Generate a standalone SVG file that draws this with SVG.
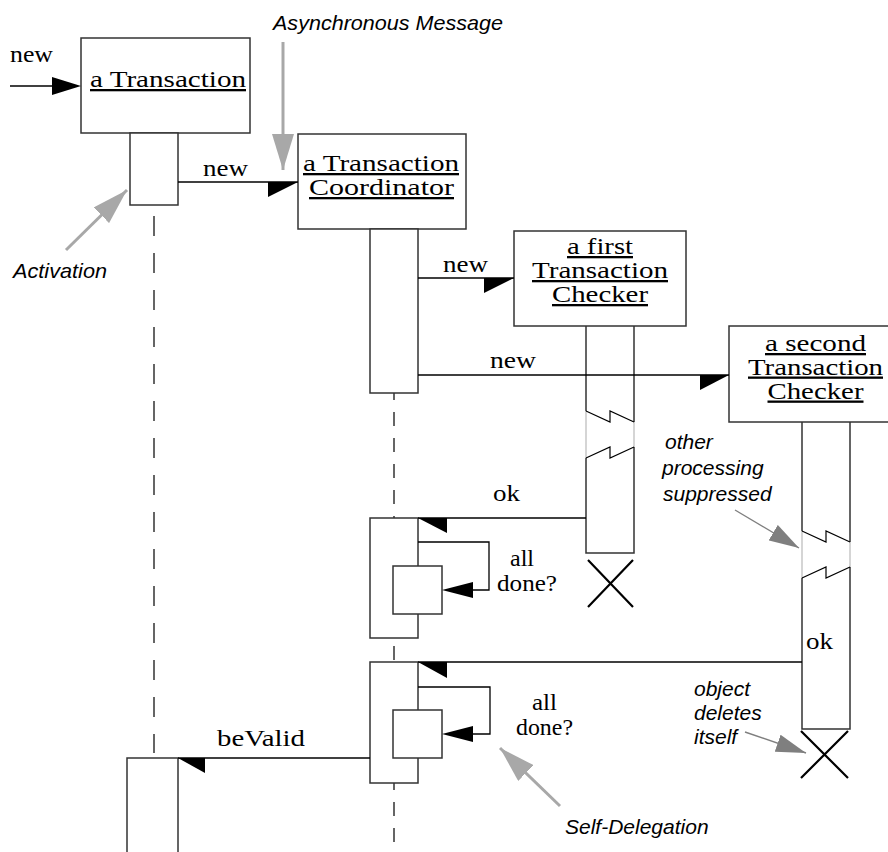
<svg xmlns="http://www.w3.org/2000/svg" width="888" height="852" viewBox="0 0 888 852">
  <style>
    .box{fill:#fff;stroke:#333;stroke-width:1.5}
    .edge{fill:none;stroke:#333;stroke-width:1.5}
    .dash{fill:none;stroke:#333;stroke-width:1.5}
    .faint{fill:none;stroke:#c8c8c8;stroke-width:1.5}
    .zig{fill:none;stroke:#000;stroke-width:1.2}
    .cross{fill:none;stroke:#000;stroke-width:2.2}
    .msg{fill:none;stroke:#000;stroke-width:1.3}
    .head{fill:#000;stroke:none}
    .name{font-family:"Liberation Serif",serif;font-size:23px;fill:#000;text-anchor:middle;text-decoration:underline}
    .lbl{font-family:"Liberation Serif",serif;font-size:23px;fill:#000}
    .note{font-family:"Liberation Sans",Arial,sans-serif;font-style:italic;font-size:21px;fill:#000}
    .call{fill:none;stroke:#a8a8a8;stroke-width:3}
    .call2{fill:none;stroke:#7f7f7f;stroke-width:1.4}
  </style>
  <defs>
    <marker id="callHead" markerUnits="userSpaceOnUse" viewBox="0 0 36 22" markerWidth="36" markerHeight="22" refX="36" refY="11" orient="auto">
      <path d="M0,0 L36,11 L0,22 z" fill="#a8a8a8"/>
    </marker>
    <marker id="callHead2" markerUnits="userSpaceOnUse" viewBox="0 0 30 18" markerWidth="30" markerHeight="18" refX="30" refY="9" orient="auto">
      <path d="M0,0 L30,9 L0,18 z" fill="#7f7f7f"/>
    </marker>
  </defs>

  <!-- a Transaction -->
  <g id="transaction">
    <path class="dash" d="M154,216 V753" stroke-dasharray="20 17"/>
    <rect class="box" x="81" y="38" width="169" height="95"/>
    <text class="name" x="168" y="87" textLength="156" lengthAdjust="spacingAndGlyphs">a Transaction</text>
    <rect class="box" x="130" y="133" width="48" height="72"/>
    <path class="box" d="M127,853 V758 H178 V853"/>
  </g>

  <!-- a Transaction Coordinator -->
  <g id="coordinator">
    <path class="dash" d="M394,393 V852" stroke-dasharray="14 12" stroke-dashoffset="7"/>
    <rect class="box" x="298" y="134" width="168" height="95"/>
    <text class="name" x="381" y="171" textLength="156" lengthAdjust="spacingAndGlyphs">a Transaction</text>
    <text class="name" x="381.5" y="195" textLength="145" lengthAdjust="spacingAndGlyphs">Coordinator</text>
    <rect class="box" x="370" y="229" width="48" height="164"/>
    <!-- first self-delegation -->
    <rect class="box" x="370" y="518" width="48" height="120"/>
    <path class="msg" d="M418,542 H489 V590 H470"/>
    <rect class="box" x="393" y="566" width="49" height="48"/>
    <path class="head" d="M442,590 L473,582 L473,598 z"/>
    <!-- second self-delegation -->
    <rect class="box" x="370" y="662" width="48" height="121"/>
    <path class="msg" d="M418,687 H490 V734 H470"/>
    <rect class="box" x="393" y="710" width="49" height="48"/>
    <path class="head" d="M442,734 L473,726 L473,742 z"/>
  </g>

  <!-- a first Transaction Checker -->
  <g id="checker1">
    <rect class="box" x="514" y="231" width="172" height="95"/>
    <text class="name" x="600" y="254" textLength="66" lengthAdjust="spacingAndGlyphs">a first</text>
    <text class="name" x="600" y="278" textLength="136" lengthAdjust="spacingAndGlyphs">Transaction</text>
    <text class="name" x="600" y="302" textLength="96" lengthAdjust="spacingAndGlyphs">Checker</text>
    <path class="faint" d="M586,411 V458 M634,422 V447"/>
    <path class="edge" d="M586,326 V411 M634,326 V422 M586,458 V553 H634 V447"/>
    <path class="zig" d="M586,411 L610,422 L610,411 L634,422 M586,458 L610,447 L610,458 L634,447"/>
    <path class="cross" d="M588,560 L633,607 M633,560 L588,607"/>
  </g>

  <!-- a second Transaction Checker -->
  <g id="checker2">
    <rect class="box" x="729" y="326" width="172" height="96"/>
    <text class="name" x="815.5" y="351" textLength="101" lengthAdjust="spacingAndGlyphs">a second</text>
    <text class="name" x="815.5" y="374.5" textLength="135" lengthAdjust="spacingAndGlyphs">Transaction</text>
    <text class="name" x="815.5" y="398.5" textLength="96" lengthAdjust="spacingAndGlyphs">Checker</text>
    <path class="faint" d="M802,531 V578 M850,542 V567"/>
    <path class="edge" d="M802,422 V531 M850,422 V542 M802,578 V729 H850 V567"/>
    <path class="zig" d="M802,531 L826,542 L826,531 L850,542 M802,578 L826,567 L826,578 L850,567"/>
    <path class="cross" d="M801,731 L848,778 M848,731 L801,778"/>
  </g>

  <!-- messages -->
  <g id="connectors">
    <path class="msg" d="M10,86 H60"/>
    <path class="head" d="M52,77 L81,86 L52,95 z"/>
    <text class="lbl" x="10" y="62" textLength="43" lengthAdjust="spacingAndGlyphs">new</text>

    <path class="msg" d="M178,182 H298"/>
    <path class="head" d="M268,182 L298,182 L268,197 z"/>
    <text class="lbl" x="203" y="176" textLength="45" lengthAdjust="spacingAndGlyphs">new</text>

    <path class="msg" d="M418,278 H514"/>
    <path class="head" d="M484,278 L514,278 L484,293 z"/>
    <text class="lbl" x="443" y="272" textLength="45" lengthAdjust="spacingAndGlyphs">new</text>

    <path class="msg" d="M418,375 H729"/>
    <path class="head" d="M700,375 L729,375 L700,390 z"/>
    <text class="lbl" x="490" y="368" textLength="46" lengthAdjust="spacingAndGlyphs">new</text>

    <path class="msg" d="M586,518 H418"/>
    <path class="head" d="M418,518 L447,518 L447,533 z"/>
    <text class="lbl" x="493" y="501" textLength="27" lengthAdjust="spacingAndGlyphs">ok</text>

    <text class="lbl" x="510" y="566" textLength="24" lengthAdjust="spacingAndGlyphs">all</text>
    <text class="lbl" x="497" y="591" textLength="60" lengthAdjust="spacingAndGlyphs">done?</text>

    <path class="msg" d="M802,662 H418"/>
    <path class="head" d="M418,662 L447,662 L447,678 z"/>
    <text class="lbl" x="806" y="649" textLength="27" lengthAdjust="spacingAndGlyphs">ok</text>

    <text class="lbl" x="532" y="710" textLength="25" lengthAdjust="spacingAndGlyphs">all</text>
    <text class="lbl" x="516" y="735" textLength="57" lengthAdjust="spacingAndGlyphs">done?</text>

    <path class="msg" d="M370,758 H178"/>
    <path class="head" d="M178,758 L205,758 L205,773 z"/>
    <text class="lbl" x="217" y="746" textLength="88" lengthAdjust="spacingAndGlyphs">beValid</text>
  </g>

  <!-- annotations -->
  <g id="annotations">
    <text class="note" x="273" y="30" textLength="230" lengthAdjust="spacingAndGlyphs">Asynchronous Message</text>
    <path class="call" d="M283,42 V170" marker-end="url(#callHead)"/>

    <text class="note" x="13" y="278" textLength="94" lengthAdjust="spacingAndGlyphs">Activation</text>
    <path class="call" d="M66,250 L127,190" marker-end="url(#callHead)"/>

    <text class="note" x="665" y="449">other</text>
    <text class="note" x="662" y="475">processing</text>
    <text class="note" x="663" y="501">suppressed</text>
    <path class="call2" d="M735,510 L799,548" marker-end="url(#callHead2)"/>

    <text class="note" x="694" y="696">object</text>
    <text class="note" x="694" y="720">deletes</text>
    <text class="note" x="694" y="744">itself</text>
    <path class="call2" d="M745,732 L806,753" marker-end="url(#callHead2)"/>

    <text class="note" x="565" y="834">Self-Delegation</text>
    <path class="call" d="M560,806 L500,748" marker-end="url(#callHead)"/>
  </g>
</svg>
